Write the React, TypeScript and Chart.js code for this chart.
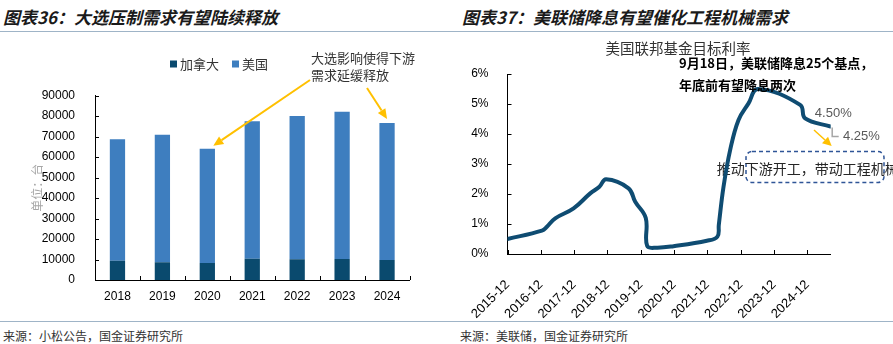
import React, { useEffect, useRef } from 'react';
import { Chart, registerables } from 'chart.js';

Chart.register(...registerables);

// ---------- data: left chart (units: 台) ----------
const years = ['2018', '2019', '2020', '2021', '2022', '2023', '2024'];
const canadaSales = [9400, 8600, 8300, 10400, 10100, 10200, 9700];
const usSales = [59200, 62300, 55700, 67100, 69900, 71900, 66900];
const salesMax = 90000;
const salesStep = 10000;

// ---------- data: right chart (months since 2015-12, rate %) ----------
const rateMonths = [0, 12.4, 14.2, 17.2, 23.8, 29.8, 33.1, 35.5, 43.6, 46, 49.8, 50.3, 53.8, 59.8, 71.8, 75.6, 76.1, 77.8, 80.2, 83.2, 86.8, 90.2, 105.4, 107.2, 116.4];
const rateValues = [0.5, 0.78, 0.91, 1.19, 1.52, 2.02, 2.24, 2.49, 2.19, 1.74, 1.2, 0.27, 0.21, 0.26, 0.44, 0.58, 0.97, 2.24, 3.47, 4.47, 5.02, 5.5, 4.97, 4.52, 4.25];
const rateStartYear = 2015;
const rateMaxMonth = 116.4;
const rateYMax = 6;

const CJK = '"Noto Sans CJK SC", "Noto Sans", sans-serif';
const LATIN = '"Liberation Sans", Arial, sans-serif';

function drawArrow(ctx: CanvasRenderingContext2D, x1: number, y1: number, x2: number, y2: number, color: string, lw: number, head: number, hw: number) {
  const ang = Math.atan2(y2 - y1, x2 - x1);
  const bx = x2 - head * Math.cos(ang);
  const by = y2 - head * Math.sin(ang);
  ctx.strokeStyle = color;
  ctx.lineWidth = lw;
  ctx.beginPath();
  ctx.moveTo(x1, y1);
  ctx.lineTo(bx, by);
  ctx.stroke();
  ctx.fillStyle = color;
  ctx.beginPath();
  ctx.moveTo(x2, y2);
  ctx.lineTo(bx + hw * Math.sin(ang), by - hw * Math.cos(ang));
  ctx.lineTo(bx - hw * Math.sin(ang), by + hw * Math.cos(ang));
  ctx.closePath();
  ctx.fill();
}

const leftDecor = {
  id: 'leftDecor',
  afterDraw(chart: any) {
    const { ctx, chartArea: ca, scales } = chart;
    const x = scales.x;
    const y = scales.y;
    ctx.save();
    // inward ticks
    ctx.strokeStyle = '#000';
    ctx.lineWidth = 1;
    y.ticks.forEach((t: any) => {
      const py = Math.round(y.getPixelForValue(t.value)) + 0.5;
      ctx.beginPath();
      ctx.moveTo(ca.left, py);
      ctx.lineTo(ca.left + 4, py);
      ctx.stroke();
    });
    const half = (x.getPixelForValue(1) - x.getPixelForValue(0)) / 2;
    for (let i = 0; i < years.length; i++) {
      const px = Math.round(x.getPixelForValue(i) + half) + 0.5;
      ctx.beginPath();
      ctx.moveTo(px, ca.bottom);
      ctx.lineTo(px, ca.bottom - 4);
      ctx.stroke();
    }
    // legend
    ctx.font = `13px ${CJK}`;
    ctx.textBaseline = 'middle';
    ctx.textAlign = 'left';
    let lx = 170;
    const ly = 29;
    const items = [
      { t: '加拿大', c: '#0a4a6e' },
      { t: '美国', c: '#3e7ebf' },
    ];
    items.forEach((it) => {
      ctx.fillStyle = it.c;
      ctx.fillRect(lx, ly - 3.5, 7, 7);
      ctx.fillStyle = '#333';
      ctx.fillText(it.t, lx + 10, ly);
      lx += 10 + ctx.measureText(it.t).width + 13;
    });
    // annotation text
    ctx.fillStyle = '#333';
    ctx.fillText('大选影响使得下游', 311, 23);
    ctx.fillText('需求延缓释放', 311, 40);
    // arrows
    const t2020 = canadaSales[2] + usSales[2];
    const t2024 = canadaSales[6] + usSales[6];
    drawArrow(ctx, 310, 45, x.getPixelForValue(2) + 6, y.getPixelForValue(t2020) - 3, '#ffc000', 2, 10, 4.5);
    drawArrow(ctx, 367, 53, x.getPixelForValue(6), y.getPixelForValue(t2024) - 4, '#ffc000', 2, 10, 4.5);
    ctx.restore();
  },
};

const rightBack = {
  id: 'rightBack',
  beforeDatasetsDraw(chart: any) {
    const { ctx } = chart;
    ctx.save();
    // dashed rounded box
    ctx.strokeStyle = '#2f5597';
    ctx.lineWidth = 1.5;
    ctx.setLineDash([4, 3]);
    ctx.beginPath();
    ctx.roundRect(296, 116.5, 138, 31, 6);
    ctx.stroke();
    ctx.setLineDash([]);
    ctx.font = `14px ${CJK}`;
    ctx.fillStyle = '#262626';
    ctx.textBaseline = 'middle';
    ctx.textAlign = 'left';
    ctx.fillText('推动下游开工，带动工程机械', 266.7, 133.3);
    ctx.restore();
  },
};

const rightDecor = {
  id: 'rightDecor',
  afterDraw(chart: any) {
    const { ctx, chartArea: ca, scales } = chart;
    const x = scales.x;
    const y = scales.y;
    ctx.save();
    ctx.strokeStyle = '#000';
    ctx.lineWidth = 1;
    y.ticks.forEach((t: any) => {
      const py = Math.round(y.getPixelForValue(t.value)) + 0.5;
      ctx.beginPath();
      ctx.moveTo(ca.left, py);
      ctx.lineTo(ca.left + 4, py);
      ctx.stroke();
    });
    x.ticks.forEach((t: any) => {
      const px = Math.round(x.getPixelForValue(t.value)) + 0.5;
      ctx.beginPath();
      ctx.moveTo(px, ca.bottom);
      ctx.lineTo(px, ca.bottom - 4);
      ctx.stroke();
    });
    // chart title
    ctx.textBaseline = 'middle';
    ctx.textAlign = 'center';
    ctx.fillStyle = '#333';
    ctx.font = `14.5px ${CJK}`;
    ctx.fillText('美国联邦基金目标利率', 228, 13);
    // bold annotation
    ctx.textAlign = 'left';
    ctx.fillStyle = '#000';
    ctx.font = `bold 13px ${CJK}`;
    ctx.fillText('9月18日，美联储降息25个基点，', 229, 28);
    ctx.fillText('年底前有望降息两次', 229, 50);
    // value labels
    ctx.font = `13px ${LATIN}`;
    ctx.fillStyle = '#595959';
    ctx.fillText('4.50%', x.getPixelForValue(110.7), y.getPixelForValue(4.7));
    ctx.fillText('4.25%', x.getPixelForValue(120.8), y.getPixelForValue(3.93));
    // leader
    const lastX = x.getPixelForValue(rateMonths[rateMonths.length - 1]);
    const lastY = y.getPixelForValue(rateValues[rateValues.length - 1]);
    ctx.strokeStyle = '#a6a6a6';
    ctx.lineWidth = 1.5;
    ctx.beginPath();
    ctx.moveTo(lastX + 1.5, lastY + 1);
    ctx.lineTo(lastX + 1.5, lastY + 10);
    ctx.lineTo(lastX + 8, lastY + 10);
    ctx.stroke();
    // yellow arrow
    drawArrow(ctx, 364, 95, 381.7, 111, '#ffc000', 1.5, 9, 4.5);
    ctx.restore();
  },
};

export default function App() {
  const leftRef = useRef<HTMLCanvasElement>(null);
  const rightRef = useRef<HTMLCanvasElement>(null);

  useEffect(() => {
    const left = new Chart(leftRef.current as HTMLCanvasElement, {
      type: 'bar',
      data: {
        labels: years,
        datasets: [
          { label: '加拿大', data: canadaSales, backgroundColor: '#0a4a6e', borderWidth: 0, barPercentage: 1, categoryPercentage: 0.34 },
          { label: '美国', data: usSales, backgroundColor: '#3e7ebf', borderWidth: 0, barPercentage: 1, categoryPercentage: 0.34 },
        ],
      },
      options: {
        responsive: false,
        animation: false,
        devicePixelRatio: 1,
        layout: { padding: { top: 60.5, right: 40.5, left: 0, bottom: 0 } },
        plugins: { legend: { display: false }, tooltip: { enabled: false } },
        scales: {
          x: {
            stacked: true,
            grid: { display: false },
            border: { display: true, color: '#000', width: 1 },
            ticks: { font: { family: LATIN, size: 12 }, color: '#000', padding: 1, maxRotation: 0 },
            afterFit: (s: any) => { s.height = 40; },
          },
          y: {
            stacked: true,
            min: 0,
            max: salesMax,
            grid: { display: false },
            border: { display: true, color: '#000', width: 1 },
            ticks: { stepSize: salesStep, callback: (v: any) => String(v), font: { family: LATIN, size: 12 }, color: '#000', padding: 12 },
            title: { display: true, text: '单位：台', color: '#a6a6a6', font: { family: CJK, size: 12 }, padding: { top: 30, bottom: 0 } },
            afterFit: (s: any) => { s.width = 95; },
          },
        },
      },
      plugins: [leftDecor],
    } as any);

    const right = new Chart(rightRef.current as HTMLCanvasElement, {
      type: 'line',
      data: {
        datasets: [
          {
            label: '美国联邦基金目标利率',
            data: rateMonths.map((m, i) => ({ x: m, y: rateValues[i] })),
            borderColor: '#0f4c72',
            borderWidth: 4,
            pointRadius: 0,
            tension: 0.4,
            fill: false,
            borderCapStyle: 'round',
            borderJoinStyle: 'round',
          },
        ],
      },
      options: {
        responsive: false,
        animation: false,
        devicePixelRatio: 1,
        layout: { padding: { top: 39, right: 62.3, left: 0, bottom: 0 } },
        plugins: { legend: { display: false }, tooltip: { enabled: false } },
        scales: {
          x: {
            type: 'linear',
            min: 0,
            max: rateMaxMonth,
            grid: { display: false },
            border: { display: true, color: '#000', width: 1 },
            ticks: {
              stepSize: 12,
              includeBounds: false,
              autoSkip: false,
              minRotation: 45,
              maxRotation: 45,
              labelOffset: 0,
              padding: 15,
              callback: (v: any) => `${rateStartYear + Math.round(Number(v) / 12)}-12`,
              font: { family: LATIN, size: 13 },
              color: '#000',
            },
            afterFit: (s: any) => { s.height = 66; },
          },
          y: {
            min: 0,
            max: rateYMax,
            grid: { display: false },
            border: { display: true, color: '#000', width: 1 },
            ticks: { stepSize: 1, callback: (v: any) => `${v}%`, font: { family: LATIN, size: 12 }, color: '#000', padding: 11 },
            afterFit: (s: any) => { s.width = 57.5; },
          },
        },
      },
      plugins: [rightBack, rightDecor],
    } as any);

    return () => {
      left.destroy();
      right.destroy();
    };
  }, []);

  const titleStyle: React.CSSProperties = {
    position: 'absolute',
    top: 6,
    fontSize: 17,
    lineHeight: '22px',
    fontWeight: 700,
    fontStyle: 'italic',
    color: '#1a1a1a',
    whiteSpace: 'nowrap',
  };
  const footStyle: React.CSSProperties = {
    position: 'absolute',
    top: 328,
    fontSize: 12,
    lineHeight: '16px',
    color: '#333',
    whiteSpace: 'nowrap',
  };

  return (
    <div style={{ position: 'fixed', left: 0, top: 0, width: 893, height: 344, background: '#fff', overflow: 'hidden', fontFamily: CJK }}>
      <div style={{ ...titleStyle, left: 3 }}>图表36：大选压制需求有望陆续释放</div>
      <div style={{ ...titleStyle, left: 462 }}>图表37：美联储降息有望催化工程机械需求</div>
      <div style={{ position: 'absolute', left: 0, top: 31, width: 893, height: 1, background: '#9fb4c7' }} />
      <canvas ref={leftRef} width={450} height={285} style={{ position: 'absolute', left: 0, top: 35 }} />
      <canvas ref={rightRef} width={443} height={285} style={{ position: 'absolute', left: 450, top: 35 }} />
      <div style={{ position: 'absolute', left: 0, top: 321, width: 893, height: 1, background: '#9fb4c7' }} />
      <div style={{ ...footStyle, left: 3 }}>来源：小松公告，国金证券研究所</div>
      <div style={{ ...footStyle, left: 460 }}>来源：美联储，国金证券研究所</div>
    </div>
  );
}
